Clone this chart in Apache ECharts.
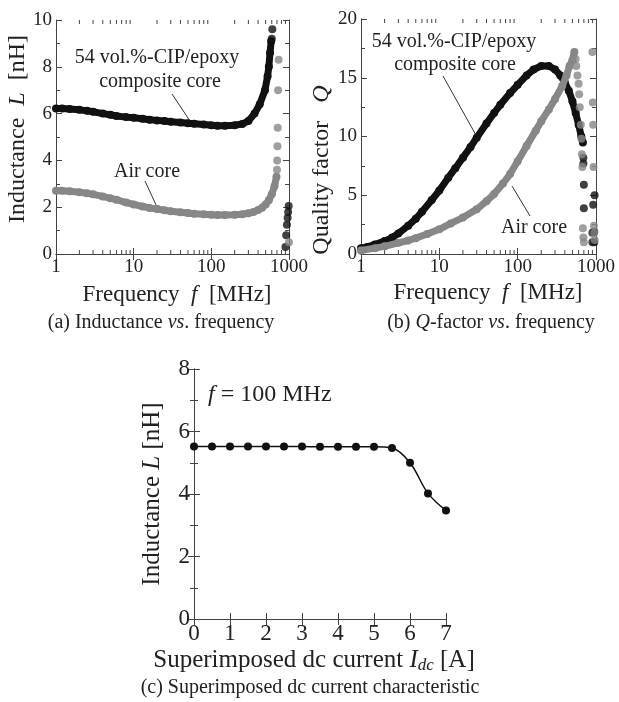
<!DOCTYPE html>
<html><head><meta charset="utf-8">
<script src="https://cdn.jsdelivr.net/npm/echarts@6/dist/echarts.min.js"></script>
<style>html,body{margin:0;padding:0;background:#fff}#c{width:619px;height:702px}</style>
</head><body><div id="c"></div>
<script>
// ---------- (a) Inductance vs frequency ----------
const aFreqComposite = [1,1.2,1.5,2,2.5,3,4,5,6,8,10,13,16,20,25,30,40,50,60,80,100,120,150,200,250,300,360,420,490,530,550,570,590];
const aLComposite    = [6.22,6.22,6.2,6.16,6.12,6.08,6.0,5.95,5.9,5.85,5.82,5.78,5.74,5.71,5.68,5.65,5.62,5.59,5.57,5.53,5.5,5.48,5.48,5.5,5.56,5.68,6.0,6.4,7.0,7.6,8.0,8.6,9.1];
const aFreqCompositeTail = [600,610,900,920,940,960,975,990];
const aLCompositeTail    = [9.2,9.6,0.3,0.8,1.25,1.55,1.8,2.05];
const aFreqAir = [1,1.2,1.5,2,2.5,3,4,5,6,8,10,13,16,20,25,30,40,50,60,80,100,120,150,200,250,300,350,400,450,500,550,600,650,690];
const aLAir    = [2.7,2.7,2.68,2.64,2.6,2.55,2.46,2.38,2.32,2.2,2.12,2.03,1.97,1.92,1.87,1.83,1.78,1.75,1.72,1.7,1.68,1.67,1.67,1.68,1.7,1.74,1.8,1.88,1.98,2.12,2.3,2.55,2.9,3.3];
const aFreqAirTail = [700,705,710,715,725,735,1000];
const aLAirTail    = [3.6,4.0,4.6,5.4,7.0,8.3,0.5];

// ---------- (b) Q-factor vs frequency ----------
const bFreqComposite = [1,1.2,1.5,2,2.5,3,4,5,6,8,10,13,16,20,25,30,40,50,60,80,100,130,160,200,250,300,350,400,450,500,550,600,650,680];
const bQComposite    = [0.5,0.6,0.8,1.1,1.4,1.75,2.4,3.0,3.6,4.6,5.4,6.5,7.3,8.2,9.1,9.9,11.1,12.0,12.7,13.7,14.4,15.2,15.7,16.0,16.0,15.7,15.2,14.6,13.9,13.0,12.0,11.0,10.0,9.5];
const bFreqCompositeTail = [690,690,700,700,900,950,900,950,920,960];
const bQCompositeTail    = [8.2,7.7,5.9,3.9,1.0,1.0,1.8,1.9,4.2,5.0];
const bFreqAir = [1,1.5,2,3,4,5,7,10,14,20,30,40,50,65,80,100,130,170,200,250,300,370,420,460,500,530];
const bQAir    = [0.3,0.5,0.65,0.95,1.15,1.35,1.7,2.1,2.6,3.1,3.8,4.5,5.1,6.0,6.8,7.9,9.2,10.5,11.3,12.3,13.2,14.3,15.2,16.0,16.5,17.2];
const bFreqAirTail = [550,560,580,600,610,620,640,650,660,670,680,690,700,900,910,920,930,940,950,960];
const bQAirTail    = [16.6,16.0,15.2,14.5,13.6,12.5,11.0,9.8,8.5,7.4,2.2,1.4,1.0,17.2,12.9,11.0,7.4,2.4,1.8,1.2];

// ---------- (c) Superimposed dc current ----------
const cCurrent = [0,0.5,1,1.5,2,2.5,3,3.5,4,4.5,5,5.5,6,6.5,7];
const cL       = [5.52,5.52,5.52,5.52,5.52,5.52,5.52,5.51,5.51,5.51,5.51,5.47,5.0,4.02,3.47];

// ---------- tick labels ----------
const logTickLabels = ['1','10','100','1000'];
const aYTicks = ['0','2','4','6','8','10'];
const bYTicks = ['0','5','10','15','20'];
const cXTicks = ['0','1','2','3','4','5','6','7'];
const cYTicks = ['0','2','4','6','8'];

const FONT = '"Liberation Serif","Times New Roman",serif';
const TXT = '#222';
const AX = '#444';

const zip = (xs, ys) => xs.map((x, i) => [x, ys[i]]);
const logMinor = [];
for (let d = 1; d <= 100; d *= 10) for (let m = 2; m <= 9; m++) logMinor.push(m * d);

function xLog(gi, pos, show) {
  return { type: 'log', logBase: 10, gridIndex: gi, position: pos, min: 1, max: 1000,
    axisLine: { show: true, lineStyle: { color: AX, width: 1 } },
    axisTick: { show: true, inside: true, length: 6, lineStyle: { color: AX } },
    axisLabel: { show: show, fontFamily: FONT, fontSize: 19, color: TXT, margin: 4,
      formatter: v => logTickLabels[Math.round(Math.log10(v))] },
    splitLine: { show: false } };
}
function yVal(gi, pos, show, min, max, interval, labels, fs) {
  return { type: 'value', gridIndex: gi, position: pos, min: min, max: max, interval: interval,
    axisLine: { show: true, lineStyle: { color: AX, width: 1 } },
    axisTick: { show: true, inside: true, length: 6, lineStyle: { color: AX } },
    minorTick: { show: true, splitNumber: 2, length: 4, lineStyle: { color: AX } },
    axisLabel: { show: show, fontFamily: FONT, fontSize: fs, color: TXT, margin: 4,
      formatter: v => labels[Math.round((v - min) / interval)] },
    splitLine: { show: false } };
}
function minorLogSeries(xi, yi, ymin, ymax) {
  return { type: 'custom', xAxisIndex: xi, yAxisIndex: yi, silent: true, clip: false, z: 1,
    data: logMinor.map(v => [v, ymin]),
    renderItem: (params, api) => {
      const v = api.value(0);
      const b = api.coord([v, ymin]);
      const t = api.coord([v, ymax]);
      return { type: 'group', children: [
        { type: 'line', shape: { x1: b[0], y1: b[1], x2: b[0], y2: b[1] - 4 }, style: { stroke: AX, lineWidth: 1 } },
        { type: 'line', shape: { x1: t[0], y1: t[1], x2: t[0], y2: t[1] + 4 }, style: { stroke: AX, lineWidth: 1 } }
      ] };
    } };
}
const BLACK = '#111';
const GRAY = '#878787';
function band(xi, yi, data, color, z) {
  return { type: 'line', xAxisIndex: xi, yAxisIndex: yi, data: data, symbol: 'circle', symbolSize: 8,
    showAllSymbol: true, itemStyle: { color: color }, lineStyle: { color: color, width: 7 }, z: z, silent: true, animation: false };
}
function dots(xi, yi, data, color, z) {
  return { type: 'scatter', xAxisIndex: xi, yAxisIndex: yi, data: data, symbol: 'circle', symbolSize: 8,
    itemStyle: { color: color }, z: z, silent: true, animation: false };
}

function rt(fs) {
  return {
    n: { fontFamily: FONT, fontSize: fs, fill: TXT, color: TXT },
    i: { fontFamily: FONT, fontSize: fs, fill: TXT, color: TXT, fontStyle: 'italic' },
    s: { fontFamily: FONT, fontSize: Math.round(fs * 0.68), fill: TXT, color: TXT, fontStyle: 'italic', padding: [Math.round(fs*0.45), 0, 0, 0] }
  };
}
function label(x, y, text, fs, rot) {
  return { type: 'text', x: x, y: y, rotation: rot || 0, silent: true,
    style: { text: text, rich: rt(fs), fontFamily: FONT, fontSize: fs, fill: TXT, align: 'center', verticalAlign: 'middle' } };
}
function lead(x1, y1, x2, y2) {
  return { type: 'line', silent: true, shape: { x1: x1, y1: y1, x2: x2, y2: y2 }, style: { stroke: '#333', lineWidth: 1 } };
}

const chart = echarts.init(document.getElementById('c'), null, { renderer: 'canvas' });
chart.setOption({
  animation: false,
  backgroundColor: '#fff',
  grid: [
    { left: 56, top: 20, width: 233, height: 234 },
    { left: 361, top: 19, width: 235, height: 235 },
    { left: 194, top: 369, width: 252, height: 250 }
  ],
  xAxis: [
    xLog(0, 'bottom', true), xLog(0, 'top', false),
    xLog(1, 'bottom', true), xLog(1, 'top', false),
    { type: 'value', gridIndex: 2, position: 'bottom', min: 0, max: 7, interval: 1,
      axisLine: { show: true, lineStyle: { color: AX } },
      axisTick: { show: true, inside: true, length: 6, lineStyle: { color: AX } },
      axisLabel: { fontFamily: FONT, fontSize: 23, color: TXT, margin: 3, formatter: v => cXTicks[Math.round(v)] },
      splitLine: { show: false } },
    { type: 'value', gridIndex: 2, position: 'top', min: 0, max: 7, interval: 1,
      axisLine: { show: true, lineStyle: { color: AX } },
      axisTick: { show: true, inside: true, length: 6, lineStyle: { color: AX } },
      axisLabel: { show: false }, splitLine: { show: false } }
  ],
  yAxis: [
    yVal(0, 'left', true, 0, 10, 2, aYTicks, 19), yVal(0, 'right', false, 0, 10, 2, aYTicks, 19),
    yVal(1, 'left', true, 0, 20, 5, bYTicks, 19), yVal(1, 'right', false, 0, 20, 5, bYTicks, 19),
    yVal(2, 'left', true, 0, 8, 2, cYTicks, 23), yVal(2, 'right', false, 0, 8, 2, cYTicks, 23)
  ],
  series: [
    minorLogSeries(0, 0, 0, 10),
    minorLogSeries(2, 2, 0, 20),
    band(0, 0, zip(aFreqComposite, aLComposite), BLACK, 3),
    dots(0, 0, zip(aFreqCompositeTail, aLCompositeTail), BLACK, 3),
    band(0, 0, zip(aFreqAir, aLAir), GRAY, 2),
    dots(0, 0, zip(aFreqAirTail, aLAirTail), GRAY, 4),
    band(2, 2, zip(bFreqComposite, bQComposite), BLACK, 2),
    dots(2, 2, zip(bFreqCompositeTail, bQCompositeTail), BLACK, 2),
    band(2, 2, zip(bFreqAir, bQAir), GRAY, 3),
    dots(2, 2, zip(bFreqAirTail, bQAirTail), GRAY, 3),
    { type: 'line', xAxisIndex: 4, yAxisIndex: 4, data: zip(cCurrent, cL), smooth: 0.35,
      symbol: 'circle', symbolSize: 8, itemStyle: { color: BLACK }, lineStyle: { color: BLACK, width: 1.5 }, z: 3 }
  ],
  graphic: [
    // (a)
    label(18, 129, '{n|Inductance  }{i|L}{n|  [nH]}', 24, Math.PI / 2),
    label(177, 295, '{n|Frequency  }{i|f}{n|  [MHz]}', 23),
    label(161, 323, '{n|(a) Inductance }{i|vs}{n|. frequency}', 20),
    label(157, 58, '{n|54 vol.%-CIP/epoxy}', 20),
    label(160, 82, '{n|composite core}', 20),
    lead(172, 94, 190, 121),
    label(147, 172, '{n|Air core}', 20),
    lead(145, 181, 157, 207),
    // (b)
    label(322, 170, '{n|Quality factor   }{i|Q}', 24, Math.PI / 2),
    label(488, 293, '{n|Frequency  }{i|f}{n|  [MHz]}', 23),
    label(491, 323, '{n|(b) }{i|Q}{n|-factor }{i|vs}{n|. frequency}', 20),
    label(454, 42, '{n|54 vol.%-CIP/epoxy}', 20),
    label(455, 65, '{n|composite core}', 20),
    lead(443, 76, 477, 137),
    label(534, 228, '{n|Air core}', 20),
    lead(530, 216, 512, 186),
    // (c)
    { type: 'text', x: 208, y: 395, silent: true,
      style: { text: '{i|f}{n| = 100 MHz}', rich: rt(24), fontFamily: FONT, fontSize: 24, fill: TXT, align: 'left', verticalAlign: 'middle' } },
    label(152, 494, '{n|Inductance }{i|L}{n| [nH]}', 25, Math.PI / 2),
    label(314, 660, '{n|Superimposed dc current }{i|I}{s|dc}{n| [A]}', 25),
    label(310, 688, '{n|(c) Superimposed dc current characteristic}', 20)
  ]
});
</script></body></html>
